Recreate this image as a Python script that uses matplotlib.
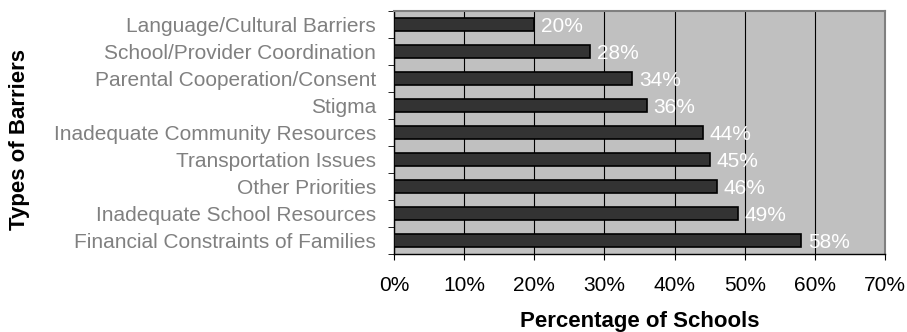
import numpy as np
import matplotlib
matplotlib.use("Agg")
import matplotlib.pyplot as plt
from matplotlib.ticker import FixedLocator

plt.rcParams['font.family'] = ['Liberation Sans', 'DejaVu Sans']

# 数据（从上到下）
barriers = ["Language/Cultural Barriers", "School/Provider Coordination",
            "Parental Cooperation/Consent", "Stigma",
            "Inadequate Community Resources", "Transportation Issues",
            "Other Priorities", "Inadequate School Resources",
            "Financial Constraints of Families"]
pct = [20, 28, 34, 36, 44, 45, 46, 49, 58]
xticks = [0, 10, 20, 30, 40, 50, 60, 70]

fig = plt.figure(figsize = (9.07, 3.32), dpi = 100)
ax = fig.add_axes([394 / 907, 1 - 254 / 332, (885 - 394) / 907, (254 - 11) / 332])
ax.set_facecolor("#c0c0c0")

y = np.arange(len(barriers))[::-1]
ax.barh(y, pct, height = 0.45, color = "#333333", edgecolor = "black", linewidth = 1.2, zorder = 3)
for yi, v in zip(y, pct):
    ax.text(v + 1.0, yi - 0.08, f"{v}%", color = "white", fontsize = 15, va = "center", ha = "left", zorder = 4)

ax.set_xlim(0, 70)
ax.set_ylim(-0.5, len(barriers) - 0.5)
ax.set_xticks(xticks)
ax.set_xticklabels([f"{t}%" for t in xticks], fontsize = 15)
ax.tick_params(axis = "x", length = 4, pad = 12, color = "black")
ax.set_yticks(y)
ax.set_yticklabels(barriers, fontsize = 15, color = "#808080")
ax.tick_params(axis = "y", which = "major", length = 0, pad = 13)
ax.yaxis.set_minor_locator(FixedLocator(np.arange(-0.5, len(barriers), 1)))
ax.tick_params(axis = "y", which = "minor", length = 4, color = "black")

ax.grid(axis = "x", color = "black", linewidth = 0.8, zorder = 1)
ax.set_axisbelow(True)
for s in ["top", "right"]:
    ax.spines[s].set_color("#808080")
    ax.spines[s].set_linewidth(1.5)
for s in ["left", "bottom"]:
    ax.spines[s].set_color("black")
    ax.spines[s].set_linewidth(1.0)

fig.text(639.5 / 907, 1 - 321 / 332, "Percentage of Schools", fontsize = 16, fontweight = "bold",
         ha = "center", va = "center")
fig.text(20 / 907, 1 - 139 / 332, "Types of Barriers", rotation = 90, fontsize = 16,
         fontweight = "bold", ha = "center", va = "center")

fig.savefig("out.png", dpi = 100)
